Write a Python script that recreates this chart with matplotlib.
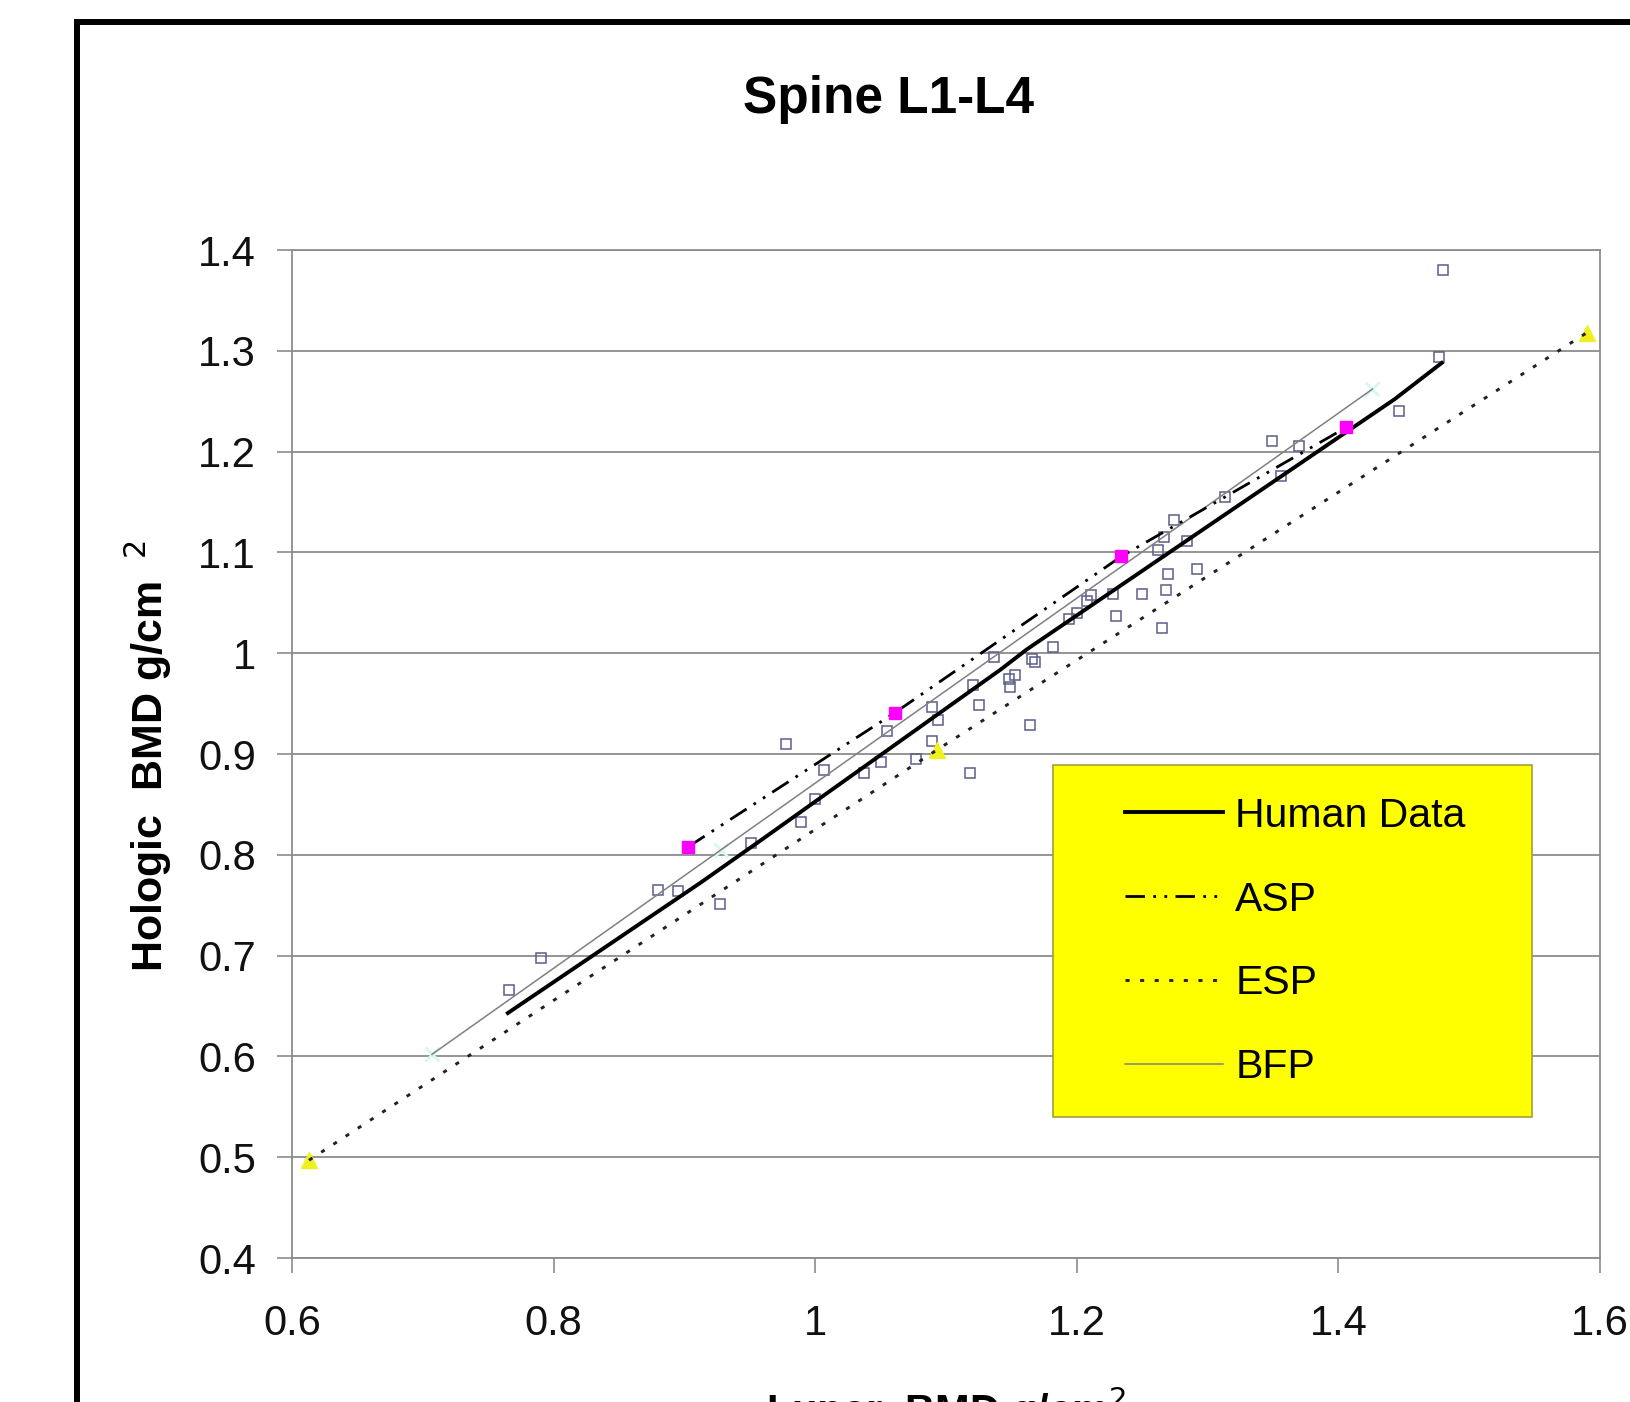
import matplotlib
matplotlib.use("Agg")
import matplotlib.pyplot as plt
from matplotlib.patches import Rectangle
from matplotlib.ticker import FuncFormatter

plt.rcParams['font.family'] = ['Liberation Sans', 'DejaVu Sans']

# human data (open squares)
human_x = [0.766, 0.790, 0.880, 0.895, 0.927, 0.951, 0.978, 0.989, 1.000, 1.007,
           1.037, 1.050, 1.055, 1.077, 1.089, 1.089, 1.094, 1.118, 1.121, 1.125,
           1.137, 1.148, 1.149, 1.153, 1.164, 1.166, 1.168, 1.182, 1.194, 1.200,
           1.208, 1.211, 1.228, 1.230, 1.250, 1.262, 1.265, 1.267, 1.268, 1.270,
           1.274, 1.284, 1.292, 1.313, 1.349, 1.356, 1.370, 1.446, 1.477, 1.480]
human_y = [0.666, 0.698, 0.765, 0.764, 0.751, 0.812, 0.910, 0.833, 0.855, 0.884,
           0.881, 0.892, 0.923, 0.895, 0.947, 0.913, 0.934, 0.881, 0.968, 0.949,
           0.996, 0.974, 0.966, 0.978, 0.929, 0.994, 0.991, 1.006, 1.034, 1.040,
           1.052, 1.058, 1.059, 1.037, 1.059, 1.102, 1.025, 1.115, 1.063, 1.079,
           1.132, 1.111, 1.084, 1.155, 1.211, 1.176, 1.206, 1.240, 1.294, 1.380]

# human data trend line
trend_x = [0.765, 0.912, 0.958, 1.142, 1.162, 1.443, 1.479]
trend_y = [0.643, 0.772, 0.814, 0.984, 1.004, 1.252, 1.288]

asp_x = [0.903, 1.061, 1.234, 1.406]
asp_y = [0.808, 0.941, 1.096, 1.224]

esp_x = [0.613, 1.093, 1.590]
esp_y = [0.497, 0.904, 1.318]

bfp_x = [0.707, 0.928, 1.426]
bfp_y = [0.602, 0.805, 1.262]

xticks = [0.6, 0.8, 1.0, 1.2, 1.4, 1.6]
yticks = [0.4, 0.5, 0.6, 0.7, 0.8, 0.9, 1.0, 1.1, 1.2, 1.3, 1.4]

W, H = 1631, 1402
fig = plt.figure(figsize=(W / 100, H / 100), dpi=100)
ax = fig.add_axes([292 / W, 1 - 1258 / H, 1308 / W, 1008 / H])

gray = '#8c8c8c'
for v in yticks:
    ax.axhline(v, color=gray, lw=1.3, zorder=1)

ax.plot(human_x, human_y, ls='none', marker='s', ms=6.5, mfc='none',
        mec='#5c5c8a', mew=1.1, zorder=3)
ax.plot(trend_x, trend_y, color='black', lw=2.8, label='Human Data', zorder=4)
ax.plot(asp_x, asp_y, color='black', lw=2, ls=(0, (7, 3, 1, 3, 1, 3)),
        label='ASP', zorder=4)
ax.plot(asp_x, asp_y, ls='none', marker='s', ms=9, color='#ff00ff', zorder=5)
ax.plot(esp_x, esp_y, color='#222222', lw=2.1, ls=(0, (1.4, 3.6)), label='ESP', zorder=4)
ax.plot(esp_x, esp_y, ls='none', marker='^', ms=11, color='#f0f020', zorder=3)
ax.plot(bfp_x, bfp_y, color='#808080', lw=1.1, label='BFP', zorder=3)
ax.plot(bfp_x, bfp_y, ls='none', marker='x', ms=10, mew=2, color='#d8f6f2', zorder=2)

ax.set_xlim(0.6, 1.6)
ax.set_ylim(0.4, 1.4)
ax.set_xticks(xticks)
ax.set_yticks(yticks)
fmt = FuncFormatter(lambda v, p: f'{v:g}')
ax.xaxis.set_major_formatter(fmt)
ax.yaxis.set_major_formatter(fmt)
ax.tick_params(axis='both', direction='out', length=11, width=1.2, color=gray,
               labelsize=30, labelcolor='#111111')
ax.tick_params(axis='x', pad=22)
ax.tick_params(axis='y', pad=15)
for s in ax.spines.values():
    s.set_color(gray)
    s.set_linewidth(1.3)

# legend box
ax.add_patch(Rectangle((0.582, 0.140), 0.366, 0.349, transform=ax.transAxes,
                       facecolor='#ffff00', edgecolor='#a0a040', lw=1.2, zorder=6))
leg = ax.legend(loc='center', bbox_to_anchor=(0.767, 0.314), frameon=False,
                fontsize=29.5, handlelength=2.4, handletextpad=0.3,
                labelspacing=1.12, borderpad=0)
leg.set_zorder(7)

fig.text(889 / W, 1 - 99 / H, 'Spine L1-L4', ha='center', va='center',
         fontsize=37, fontweight='bold')
fig.text(148 / W, 1 - 756 / H, r'Hologic  BMD g/cm $^{\ 2}$', rotation=90,
         ha='center', va='center', fontsize=31, fontweight='bold')
fig.text(946 / W, -0.0165, r'Lunar  BMD g/cm$^{2}$', ha='center', va='baseline',
         fontsize=30, fontweight='bold')

# outer frame running off the page
fig.add_artist(Rectangle((77 / W, -0.1), 1.2, 1 - 22 / H + 0.1,
                         transform=fig.transFigure, fill=False,
                         edgecolor='black', lw=4.3))

fig.savefig('out.png', dpi=100)
